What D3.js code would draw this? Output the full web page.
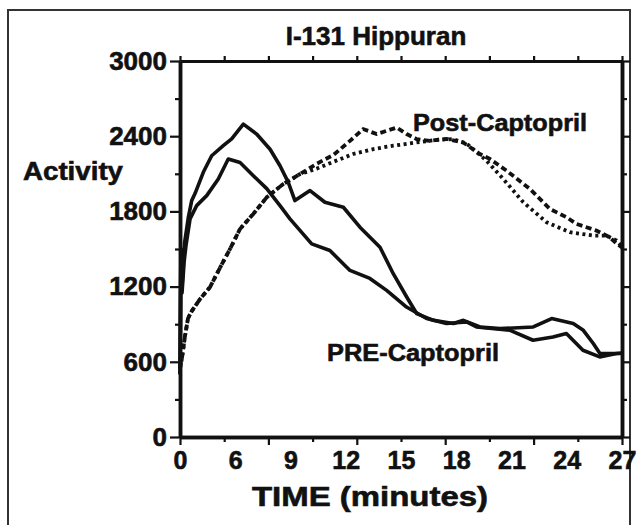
<!DOCTYPE html>
<html><head><meta charset="utf-8">
<script src="https://cdn.jsdelivr.net/npm/d3@7"></script>
<style>
html,body{margin:0;padding:0;background:#fff;}
svg text{font-family:"Liberation Sans",Arial,Helvetica,sans-serif;font-weight:bold;fill:#111;stroke:#111;stroke-width:0.6px;}
</style></head>
<body>
<svg id="chart" width="637" height="525"></svg>
<script>
// ---- data ----
const title = "I-131 Hippuran";
const xTickLabels = [0, 6, 9, 12, 15, 18, 21, 24, 27];
const yTickValues = [0, 600, 1200, 1800, 2400, 3000];
const yMinorValues = [300, 900, 1500, 2100, 2700];

// PRE-Captopril (two solid curves)
const preTime1 = [0,0.1,0.22,0.5,0.9,1.27,1.63,2.53,3.44,4.7,5.61,6.44,7.16,7.89,8.43,8.88,9.24,10.06,10.87,11.87,12.77,13.86,14.58,15.31,15.85,16.76,17.84,18.39,19.29,20.38,22.18,23.18,24.35,24.9,25.44,25.8,26.71,27];
const preAct1  = [500,1500,1200,1550,1750,1886,1942,2112,2244,2324,2379,2496,2417,2296,2164,2032,1886,1966,1873,1833,1674,1514,1303,1117,985,931,905,931,878,865,878,945,905,851,746,666,666,668];
const preTime2 = [0,0.1,0.22,0.45,0.65,1.09,1.81,2.9,4.16,5.24,6.26,6.98,7.71,8.43,8.97,10.15,11.14,12.23,13.31,14.22,15.3,16.39,17.47,18.56,19.1,20.9,22.17,23.25,23.98,24.88,25.79,26.7,27];
const preAct2  = [500,1450,1150,1400,1528,1740,1846,1926,2059,2218,2190,2085,1982,1846,1740,1541,1488,1329,1265,1170,1037,945,905,918,878,852,772,798,825,692,639,666,668];

// Post-Captopril (two dotted curves)
const postTime1 = [0,0.18,0.36,0.54,0.87,1.27,2.17,3.26,4.34,5.43,6.26,6.98,7.71,8.61,9.52,10.42,11.33,12.23,12.95,13.68,14.22,14.77,15.31,15.85,16.56,17.47,18.38,19.28,19.83,20.73,22.0,23.08,23.99,24.53,25.61,26.33,26.7,27];
const postAct1  = [550,613,708,804,947,1003,1100,1196,1350,1500,1660,1780,1912,2019,2098,2180,2250,2363,2457,2417,2443,2469,2417,2377,2363,2379,2350,2258,2218,2125,1979,1820,1753,1700,1647,1594,1544,1512];
const postTime2 = [0,0.18,0.36,0.54,0.87,1.27,2.17,3.26,4.34,5.43,6.26,6.98,7.71,8.61,9.52,10.42,11.33,12.41,13.5,14.58,15.85,16.93,17.84,18.57,19.65,20.55,21.64,22.91,24.17,25.44,26.16,26.7,27];
const postAct2  = [550,613,708,804,947,1003,1100,1196,1350,1500,1660,1780,1912,2019,2098,2141,2196,2258,2297,2324,2350,2371,2377,2340,2204,2059,1873,1713,1634,1607,1607,1568,1520];

// ---- layout ----
const svg = d3.select("#chart");
const X0 = 180, X1 = 622, Y0 = 437, Y1 = 61;
const ink = "#111";
const FONT = '"Liberation Sans",Arial,Helvetica,sans-serif';

// frame around the figure
svg.append("rect").attr("x", 8).attr("y", 10).attr("width", 622).attr("height", 540)
  .attr("fill", "none").attr("stroke", "#333").attr("stroke-width", 2);

// label positions are equally spaced along the axis
const labelPos = d3.range(xTickLabels.length).map(i => X0 + i * (X1 - X0) / (xTickLabels.length - 1));
const x = d3.scaleLinear().domain(xTickLabels).range(labelPos);
const xLab = d3.scalePoint().domain(xTickLabels.map(String)).range([X0, X1]);
const tickIdx = d3.scaleLinear().domain([0, 10]).range([X0, X1]);
const y = d3.scaleLinear().domain([0, 3000]).range([Y0, Y1]);

function styleAxis(g, width) {
  g.select(".domain").attr("stroke", ink).attr("stroke-width", width);
  g.selectAll(".tick line").attr("stroke", ink).attr("stroke-width", 2.2);
  g.selectAll(".tick text").remove();
}
function styleLabels(g, size) {
  g.selectAll(".tick text").attr("font-size", size).attr("fill", ink)
    .attr("font-family", FONT).attr("font-weight", "bold");
}

// left axis
const gl = svg.append("g").attr("transform", `translate(${X0},0)`)
  .call(d3.axisLeft(y).tickValues(yMinorValues).tickSize(5).tickSizeOuter(0));
styleAxis(gl, 3.5);
const gl2 = svg.append("g").attr("transform", `translate(${X0},0)`)
  .call(d3.axisLeft(y).tickValues(yTickValues).tickSize(10).tickSizeOuter(0)
    .tickPadding(3).tickFormat(d3.format("d")));
gl2.select(".domain").attr("stroke", ink).attr("stroke-width", 3.5);
gl2.selectAll(".tick line").attr("stroke", ink).attr("stroke-width", 2.2);
styleLabels(gl2, 26);

// right axis
const gr = svg.append("g").attr("transform", `translate(${X1},0)`)
  .call(d3.axisRight(y).tickValues(yMinorValues).tickSize(5).tickSizeOuter(0));
styleAxis(gr, 3.5);
const gr2 = svg.append("g").attr("transform", `translate(${X1},0)`)
  .call(d3.axisRight(y).tickValues(yTickValues).tickSize(8).tickSizeOuter(0));
styleAxis(gr2, 3.5);

// bottom axis tick marks
const gb = svg.append("g").attr("transform", `translate(0,${Y0})`)
  .call(d3.axisBottom(tickIdx).tickValues([1,3,5,7,9]).tickSize(5).tickSizeOuter(0));
styleAxis(gb, 3.5);
const gb2 = svg.append("g").attr("transform", `translate(0,${Y0})`)
  .call(d3.axisBottom(tickIdx).tickValues([0,2,4,6,8,10]).tickSize(8).tickSizeOuter(0));
styleAxis(gb2, 3.5);
// bottom labels
const gbl = svg.append("g").attr("transform", `translate(0,${Y0})`)
  .call(d3.axisBottom(xLab).tickSize(0).tickPadding(14));
gbl.select(".domain").remove();
styleLabels(gbl, 25);

// top axis
const gt = svg.append("g").attr("transform", `translate(0,${Y1})`)
  .call(d3.axisTop(tickIdx).tickValues(d3.range(0, 11)).tickSize(5).tickSizeOuter(0));
styleAxis(gt, 3);

// curves
const line = d3.line().x(d => x(d[0])).y(d => y(d[1]));
function series(t, v) { return t.map((tt, i) => [tt, v[i]]); }

svg.append("path").datum(series(postTime2, postAct2)).attr("d", line)
  .attr("fill", "none").attr("stroke", ink).attr("stroke-width", 3.8)
  .attr("stroke-dasharray", "3,3.5");
svg.append("path").datum(series(postTime1, postAct1)).attr("d", line)
  .attr("fill", "none").attr("stroke", ink).attr("stroke-width", 3.8)
  .attr("stroke-dasharray", "6,3.5");
svg.append("path").datum(series(preTime1, preAct1)).attr("d", line)
  .attr("fill", "none").attr("stroke", ink).attr("stroke-width", 3.6).attr("stroke-linejoin", "round");
svg.append("path").datum(series(preTime2, preAct2)).attr("d", line)
  .attr("fill", "none").attr("stroke", ink).attr("stroke-width", 3.6).attr("stroke-linejoin", "round");

// texts
svg.append("text").attr("x", 376).attr("y", 45).attr("text-anchor", "middle")
  .attr("font-size", 26).text(title);
svg.append("text").attr("x", 23).attr("y", 180).attr("font-size", 26)
  .attr("textLength", 100).attr("lengthAdjust", "spacingAndGlyphs").text("Activity");
svg.append("text").attr("x", 370).attr("y", 506).attr("text-anchor", "middle")
  .attr("font-size", 27).attr("textLength", 236).attr("lengthAdjust", "spacingAndGlyphs").text("TIME (minutes)");
svg.append("text").attr("x", 413).attr("y", 131).attr("font-size", 24)
  .attr("textLength", 174).attr("lengthAdjust", "spacingAndGlyphs").text("Post-Captopril");
svg.append("text").attr("x", 327).attr("y", 361).attr("font-size", 24)
  .attr("textLength", 172).attr("lengthAdjust", "spacingAndGlyphs").text("PRE-Captopril");
</script>
</body></html>
